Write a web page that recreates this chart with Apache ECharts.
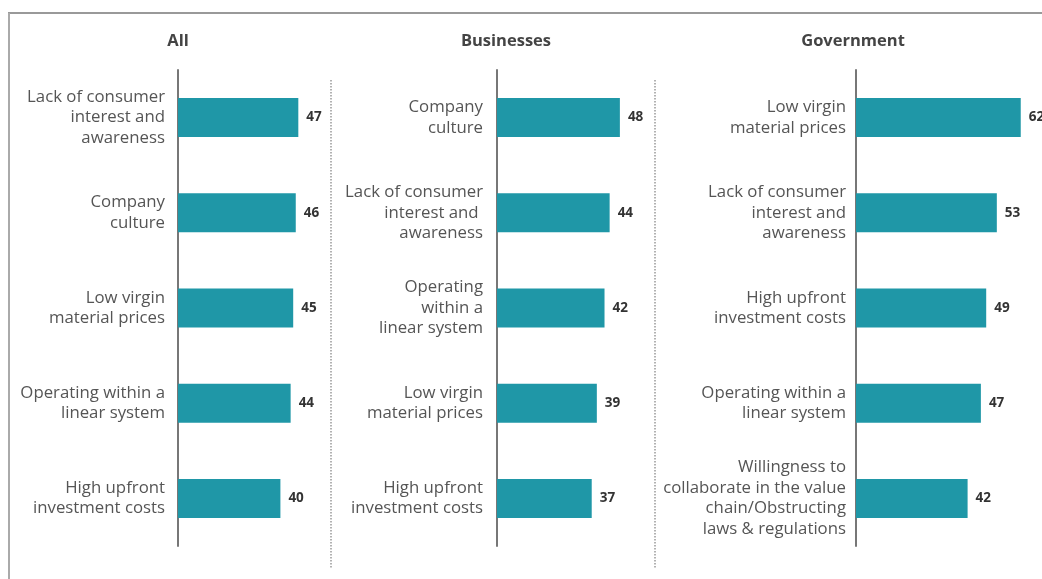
<!DOCTYPE html>
<html><head><meta charset="utf-8">
<script src="https://cdn.jsdelivr.net/npm/echarts@6/dist/echarts.min.js"></script>
<style>html,body{margin:0;padding:0;background:#fff}#c{width:1042px;height:579px}</style>
</head><body><div id="c"></div>
<script>
const titles = ["All", "Businesses", "Government"];
const allCats = ["Lack of consumer\ninterest and\nawareness", "Company\nculture", "Low virgin\nmaterial prices", "Operating within a\nlinear system", "High upfront\ninvestment costs"];
const allVals = [47, 46, 45, 44, 40];
const bizCats = ["Company\nculture", "Lack of consumer\ninterest and \nawareness", "Operating\nwithin a\nlinear system", "Low virgin\nmaterial prices", "High upfront\ninvestment costs"];
const bizVals = [48, 44, 42, 39, 37];
const govCats = ["Low virgin\nmaterial prices", "Lack of consumer\ninterest and\nawareness", "High upfront\ninvestment costs", "Operating within a\nlinear system", "Willingness to\ncollaborate in the value\nchain/Obstructing\nlaws & regulations"];
const govVals = [62, 53, 49, 47, 42];

const panels = [
  {cats: allCats, vals: allVals, left: 178, width: 153.6, max: 60, titleX: 173, margin: 13},
  {cats: bizCats, vals: bizVals, left: 497, width: 153.6, max: 60, titleX: 501, margin: 14},
  {cats: govCats, vals: govVals, left: 856, width: 190.4, max: 70, titleX: 848, margin: 10}
];
const FONT = "'Open Sans', sans-serif";
const chart = echarts.init(document.getElementById('c'));
const option = {
  animation: false,
  title: panels.map((p, i) => ({
    text: titles[i], left: p.titleX, top: 28, textAlign: 'center',
    textStyle: {fontFamily: FONT, fontSize: 16.5, fontWeight: 'bold', color: '#444'}
  })),
  grid: panels.map(p => ({left: p.left, top: 70, width: p.width, height: 476, containLabel: false})),
  xAxis: panels.map((p, i) => ({type: 'value', gridIndex: i, min: 0, max: p.max, show: false, splitLine: {show: false}})),
  yAxis: panels.map((p, i) => ({
    type: 'category', gridIndex: i, data: p.cats, inverse: true,
    axisLine: {show: true, lineStyle: {color: '#777', width: 2}},
    axisTick: {show: false},
    axisLabel: {fontFamily: FONT, fontSize: 16.8, color: '#555', lineHeight: 20.5, margin: p.margin, align: 'right'}
  })),
  series: panels.map((p, i) => ({
    type: 'bar', xAxisIndex: i, yAxisIndex: i, data: p.vals, barWidth: 39,
    itemStyle: {color: '#1f97a7'},
    label: {show: true, position: 'right', distance: 8, fontFamily: FONT, fontSize: 13.5, fontWeight: 'bold', color: '#333'}
  })),
  graphic: [
    {type: 'line', shape: {x1: 8, y1: 13, x2: 1042, y2: 13}, style: {stroke: '#999', lineWidth: 2}},
    {type: 'line', shape: {x1: 9, y1: 13, x2: 9, y2: 579}, style: {stroke: '#aaa', lineWidth: 2}},
    {type: 'line', shape: {x1: 331, y1: 80, x2: 331, y2: 568}, style: {stroke: '#999', lineWidth: 1.5, lineDash: [1.5, 1.5]}},
    {type: 'line', shape: {x1: 655, y1: 80, x2: 655, y2: 568}, style: {stroke: '#999', lineWidth: 1.5, lineDash: [1.5, 1.5]}}
  ]
};
chart.setOption(option);
</script></body></html>
